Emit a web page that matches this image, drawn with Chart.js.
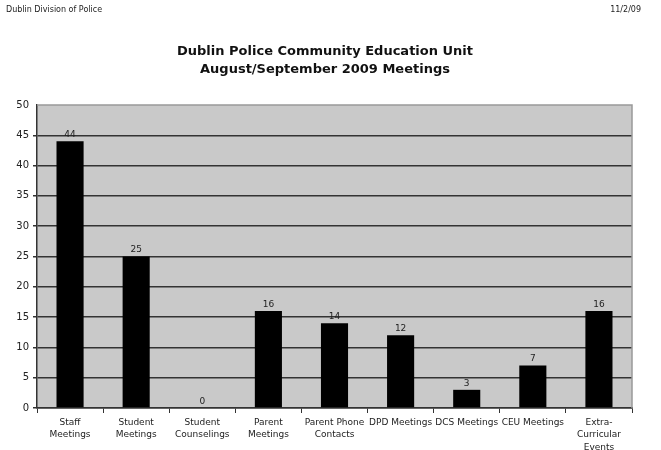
<!DOCTYPE html>
<html>
<head>
<meta charset="utf-8">
<script src="https://cdn.jsdelivr.net/npm/chart.js@4"></script>
<style>
html,body{margin:0;padding:0;background:#fff;}
#wrap{width:661px;height:450px;position:relative;}
</style>
</head>
<body>
<div id="wrap"><canvas id="c" width="661" height="450"></canvas></div>
<script>
const categories = [
  ["Staff","Meetings"],
  ["Student","Meetings"],
  ["Student","Counselings"],
  ["Parent","Meetings"],
  ["Parent Phone","Contacts"],
  ["DPD Meetings"],
  ["DCS Meetings"],
  ["CEU Meetings"],
  ["Extra-","Curricular","Events"]
];
const meetings = [44, 25, 0, 16, 14, 12, 3, 7, 16];
const titleLines = ["Dublin Police Community Education Unit", "August/September 2009 Meetings"];
const headerLeft = "Dublin Division of Police";
const headerRight = "11/2/09";

const decor = {
  id: 'decor',
  beforeDraw(chart) {
    const {ctx, chartArea: a} = chart;
    ctx.save();
    ctx.fillStyle = '#c9c9c9';
    ctx.fillRect(a.left, a.top, a.right - a.left, a.bottom - a.top);
    ctx.restore();
  },
  afterDatasetsDraw(chart) {
    const {ctx, chartArea: a} = chart;
    ctx.save();
    ctx.strokeStyle = '#999';
    ctx.lineWidth = 1.5;
    ctx.beginPath();
    ctx.moveTo(a.left, a.top);
    ctx.lineTo(a.right, a.top);
    ctx.lineTo(a.right, a.bottom);
    ctx.stroke();
    // value labels
    ctx.fillStyle = '#222';
    ctx.font = '9px "DejaVu Sans"';
    ctx.textAlign = 'center';
    ctx.textBaseline = 'bottom';
    const meta = chart.getDatasetMeta(0);
    meta.data.forEach((el, i) => {
      ctx.fillText(String(meetings[i]), el.x, el.y - 2);
    });
    // header
    ctx.font = '8px "DejaVu Sans"';
    ctx.textBaseline = 'middle';
    ctx.textAlign = 'left';
    ctx.fillText(headerLeft, 6, 10);
    ctx.textAlign = 'right';
    ctx.fillText(headerRight, 641, 10);
    // title
    ctx.fillStyle = '#111';
    ctx.font = 'bold 13px "DejaVu Sans"';
    ctx.textAlign = 'center';
    ctx.fillText(titleLines[0], 325, 52);
    ctx.fillText(titleLines[1], 325, 70);
    ctx.restore();
  }
};

new Chart(document.getElementById('c'), {
  type: 'bar',
  data: {
    labels: categories,
    datasets: [{
      data: meetings,
      backgroundColor: '#000',
      borderColor: '#222',
      borderWidth: 0,
      barPercentage: 0.82,
      categoryPercentage: 0.5
    }]
  },
  plugins: [decor],
  options: {
    responsive: false,
    animation: false,
    layout: { padding: { top: 105, right: 29, left: 0, bottom: 0 } },
    plugins: { legend: { display: false }, title: { display: false }, tooltip: { enabled: false } },
    scales: {
      x: {
        offset: true,
        afterFit(s) { s.height = 42; },
        grid: {
          offset: true,
          drawOnChartArea: false,
          drawTicks: true,
          tickLength: 5,
          color: '#333',
          lineWidth: 1
        },
        border: { color: '#333', width: 1.5 },
        ticks: {
          color: '#222',
          font: { family: 'DejaVu Sans', size: 9, lineHeight: 1.4 },
          padding: 3,
          maxRotation: 0,
          autoSkip: false
        }
      },
      y: {
        min: 0,
        max: 50,
        afterFit(s) { s.width = 37; },
        grid: {
          color: (c) => c.tick && c.tick.value === 50 ? 'rgba(0,0,0,0)' : '#333',
          lineWidth: 1.5,
          tickLength: 4,
          drawTicks: true
        },
        border: { color: '#333', width: 1.5 },
        ticks: {
          stepSize: 5,
          color: '#222',
          font: { family: 'DejaVu Sans', size: 10 },
          padding: 4
        }
      }
    }
  }
});
</script>
</body>
</html>
